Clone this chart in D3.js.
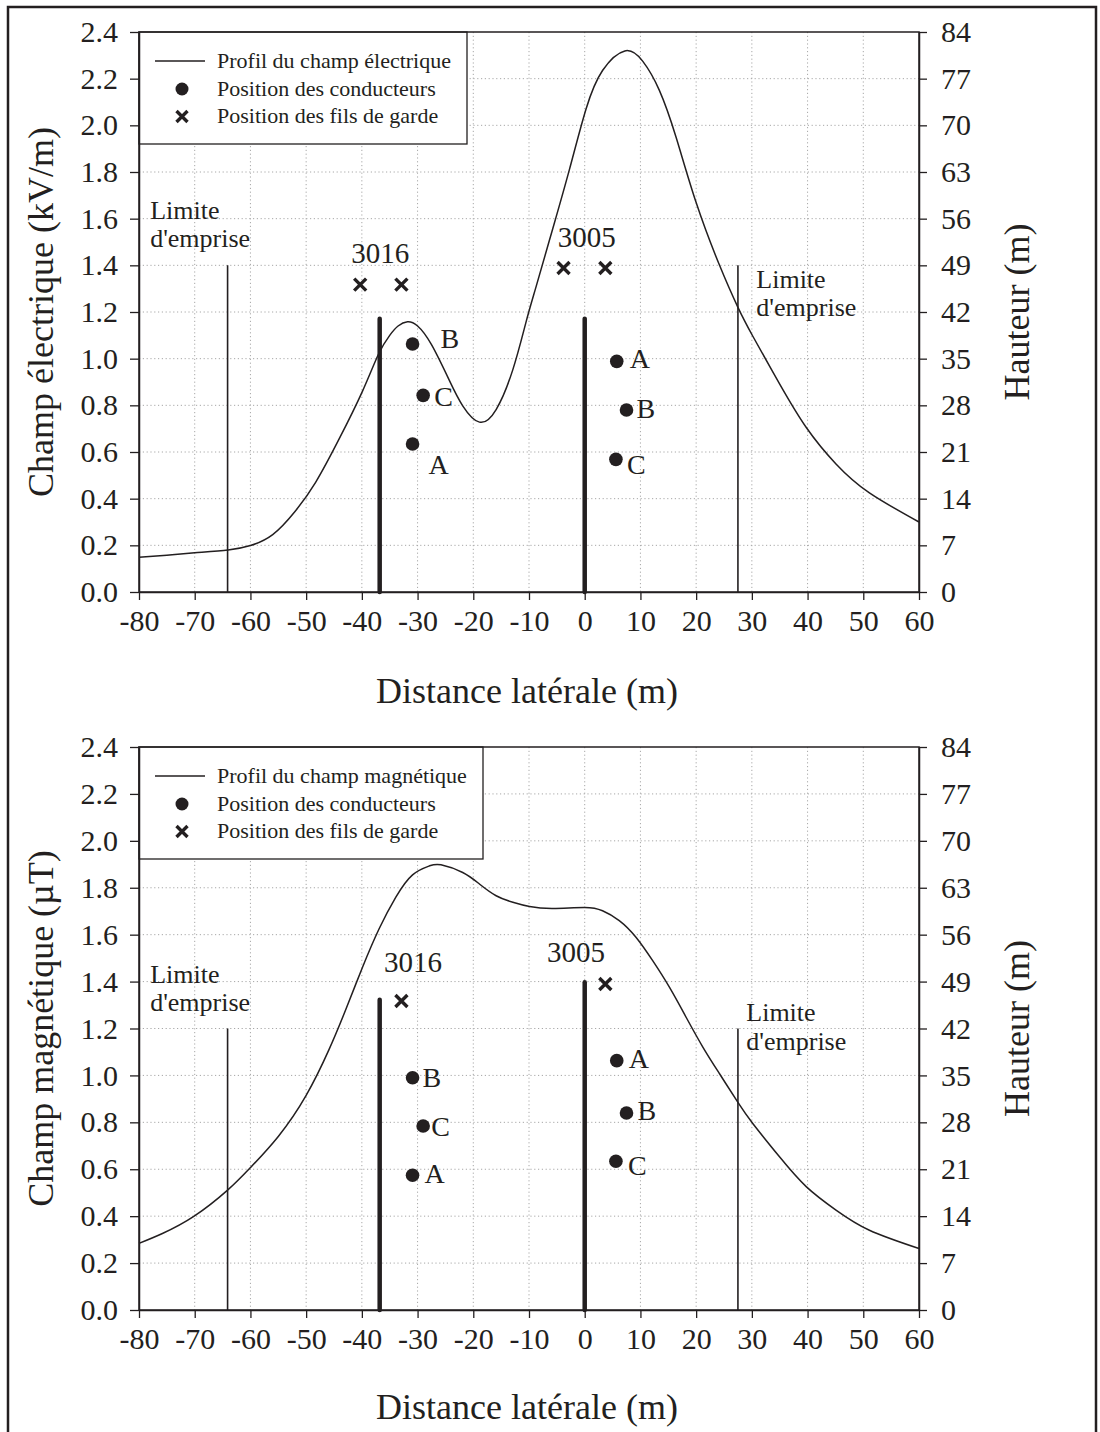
<!DOCTYPE html>
<html>
<head>
<meta charset="utf-8">
<title>Champ électrique et magnétique</title>
<script src="https://d3js.org/d3.v7.min.js"></script>
<style>
  body { margin: 0; background: #fff; }
  svg text { font-family: "Liberation Serif", "Times New Roman", serif; fill: #231f20; }
</style>
</head>
<body>
<script>
// ---- data ----
// electric field profile (kV/m) vs lateral distance (m)
const distElec = [-80, -75, -70, -64, -60, -56, -52, -48.3, -44.1, -39.9, -37, -35, -33.5, -31.8, -30, -27.5, -24.3, -21.9, -18.9, -15.9, -12.9, -10.5, -8.7, -5.7, -2.75, 0.24, 3.2, 7.2, 10.4, 13.4, 16.4, 20, 24.2, 27.5, 30.2, 35, 39.8, 45.1, 51.1, 60];
const champElec = [0.149, 0.158, 0.168, 0.180, 0.199, 0.246, 0.345, 0.47, 0.655, 0.86, 1.02, 1.10, 1.14, 1.158, 1.14, 1.06, 0.907, 0.798, 0.728, 0.782, 0.953, 1.16, 1.311, 1.56, 1.81, 2.07, 2.235, 2.319, 2.275, 2.15, 1.949, 1.669, 1.40, 1.22, 1.095, 0.891, 0.704, 0.549, 0.425, 0.30];

// magnetic field profile (uT) vs lateral distance (m)
const distMag = [-80, -75.8, -70.1, -64.1, -60, -55, -50, -45.9, -42.9, -39.9, -36.9, -33.9, -30.9, -27.9, -25.8, -21.9, -18.9, -15.9, -12.9, -9.9, -5.7, 0, 3.2, 6.2, 9.2, 12.2, 15.2, 18.2, 21.2, 24.2, 27.5, 30.2, 35, 39.8, 45.1, 51.1, 60];
const champMag = [0.284, 0.326, 0.40, 0.511, 0.607, 0.74, 0.915, 1.11, 1.28, 1.46, 1.625, 1.76, 1.855, 1.893, 1.898, 1.865, 1.816, 1.766, 1.738, 1.72, 1.712, 1.716, 1.702, 1.66, 1.589, 1.489, 1.376, 1.248, 1.121, 1.007, 0.885, 0.794, 0.652, 0.525, 0.426, 0.340, 0.262];

// axes
const xTicks = [-80, -70, -60, -50, -40, -30, -20, -10, 0, 10, 20, 30, 40, 50, 60];
const yTicks = [0, 0.2, 0.4, 0.6, 0.8, 1.0, 1.2, 1.4, 1.6, 1.8, 2.0, 2.2, 2.4];
const hTicks = [0, 7, 14, 21, 28, 35, 42, 49, 56, 63, 70, 77, 84];

// towers (x in m, heights in m)
const towerNames = ["3016", "3005"];
const poleX = [-36.8, 0];
const poleHElec = [41.0, 41.0];
const poleHMag = [46.3, 48.9];

// ground wires (fils de garde)
const gardeXElec = [-40.3, -32.9, -3.8, 3.7];
const gardeHElec = [46.1, 46.1, 48.6, 48.6];
const gardeXMag = [-32.9, 3.7];
const gardeHMag = [46.1, 48.65];

// conductors
const condXElec = [-30.9, -29.0, -30.9, 5.75, 7.5, 5.6];
const condHElec = [37.2, 29.5, 22.2, 34.6, 27.3, 19.9];
const phaseElec = ["B", "C", "A", "A", "B", "C"];
const condXMag = [-30.9, -29.0, -30.9, 5.75, 7.5, 5.6];
const condHMag = [34.65, 27.45, 20.1, 37.2, 29.4, 22.2];
const phaseMag = ["B", "C", "A", "A", "B", "C"];

// limite d'emprise
const limiteX = [-64.1, 27.5];
const limiteTopElec = 1.4;
const limiteTopMag = 1.2;

// ---- layout ----
const W = 1100, H = 1432;
const left = 139, right = 919;
const ink = "#231f20";

const svg = d3.select("body").append("svg").attr("width", W).attr("height", H);

// outer frame of the figure
svg.append("rect").attr("x", 8).attr("y", 7).attr("width", 1088).attr("height", 1450)
  .attr("fill", "none").attr("stroke", ink).attr("stroke-width", 2.5);

const charts = [
  {
    top: 32, bottom: 592,
    dist: distElec, champ: champElec,
    yTitle: "Champ électrique (kV/m)",
    legendText: "Profil du champ électrique", legendW: 328,
    poleH: poleHElec, gardeX: gardeXElec, gardeH: gardeHElec,
    condX: condXElec, condH: condHElec, phases: phaseElec,
    phaseOff: [[28, 4], [11, 11], [16, 30], [13, 7], [10, 8], [11, 15]],
    limiteTop: limiteTopElec,
    limiteLabels: [[-78, 1.60], [30.8, 1.303]],
    towerLabels: [[-36.7, 1.412], [0.36, 1.479]],
    xTitleY: 703
  },
  {
    top: 747, bottom: 1310,
    dist: distMag, champ: champMag,
    yTitle: "Champ magnétique (µT)",
    legendText: "Profil du champ magnétique", legendW: 344,
    poleH: poleHMag, gardeX: gardeXMag, gardeH: gardeHMag,
    condX: condXMag, condH: condHMag, phases: phaseMag,
    phaseOff: [[10, 9], [8, 10], [12, 8], [12, 7], [11, 7], [12, 14]],
    limiteTop: limiteTopMag,
    limiteLabels: [[-78, 1.396], [29.0, 1.231]],
    towerLabels: [[-30.8, 1.439], [-1.56, 1.483]],
    xTitleY: 1419
  }
];

function xMark(g, cx, cy, s) {
  g.append("path")
    .attr("d", `M${cx - s},${cy - s}L${cx + s},${cy + s}M${cx - s},${cy + s}L${cx + s},${cy - s}`)
    .attr("stroke", ink).attr("stroke-width", 3.4).attr("fill", "none");
}

charts.forEach(c => {
  const x = d3.scaleLinear().domain([-80, 60]).range([left, right]);
  const y = d3.scaleLinear().domain([0, 2.4]).range([c.bottom, c.top]);
  const h = d3.scaleLinear().domain([0, 84]).range([c.bottom, c.top]);
  const g = svg.append("g");

  // dotted grid
  g.append("g").selectAll("line").data(xTicks.slice(1, -1)).join("line")
    .attr("x1", d => x(d)).attr("x2", d => x(d)).attr("y1", c.top).attr("y2", c.bottom)
    .attr("stroke", "#a8a8a8").attr("stroke-width", 1).attr("stroke-dasharray", "1.2,2.6");
  g.append("g").selectAll("line").data(yTicks.slice(1, -1)).join("line")
    .attr("y1", d => y(d)).attr("y2", d => y(d)).attr("x1", left).attr("x2", right)
    .attr("stroke", "#a8a8a8").attr("stroke-width", 1).attr("stroke-dasharray", "1.2,2.6");

  // field profile
  const pts = c.dist.map((d, i) => [d, c.champ[i]]);
  g.append("path").datum(pts)
    .attr("d", d3.line().x(d => x(d[0])).y(d => y(d[1])).curve(d3.curveNatural))
    .attr("fill", "none").attr("stroke", ink).attr("stroke-width", 1.5);

  // limite d'emprise
  g.append("g").selectAll("line").data(limiteX).join("line")
    .attr("x1", d => x(d)).attr("x2", d => x(d)).attr("y1", y(0)).attr("y2", y(c.limiteTop))
    .attr("stroke", ink).attr("stroke-width", 1.6);
  c.limiteLabels.forEach(p => {
    const t = g.append("text").attr("x", x(p[0])).attr("y", y(p[1])).attr("font-size", 26);
    t.append("tspan").text("Limite");
    t.append("tspan").attr("x", x(p[0])).attr("dy", 28.5).text("d'emprise");
  });

  // poles
  g.append("g").selectAll("line").data(poleX).join("line")
    .attr("x1", d => x(d)).attr("x2", d => x(d)).attr("y1", h(0))
    .attr("y2", (d, i) => h(c.poleH[i]))
    .attr("stroke", ink).attr("stroke-width", 4.5).attr("stroke-linecap", "round");
  g.append("g").selectAll("text").data(towerNames).join("text")
    .attr("x", (d, i) => x(c.towerLabels[i][0])).attr("y", (d, i) => y(c.towerLabels[i][1]))
    .attr("text-anchor", "middle").attr("font-size", 29).text(d => d);

  // ground wires
  c.gardeX.forEach((gx, i) => xMark(g, x(gx), h(c.gardeH[i]), 6));

  // conductors
  g.append("g").selectAll("circle").data(c.condX).join("circle")
    .attr("cx", d => x(d)).attr("cy", (d, i) => h(c.condH[i])).attr("r", 6.8).attr("fill", ink);
  g.append("g").selectAll("text").data(c.phases).join("text")
    .attr("x", (d, i) => x(c.condX[i]) + c.phaseOff[i][0])
    .attr("y", (d, i) => h(c.condH[i]) + c.phaseOff[i][1])
    .attr("font-size", 28).text(d => d);

  // legend
  const lg = g.append("g").attr("transform", `translate(${left},${c.top})`);
  lg.append("rect").attr("width", c.legendW).attr("height", 112)
    .attr("fill", "#fff").attr("stroke", ink).attr("stroke-width", 1.3);
  lg.append("line").attr("x1", 16).attr("x2", 66).attr("y1", 29).attr("y2", 29)
    .attr("stroke", ink).attr("stroke-width", 1.5);
  lg.append("circle").attr("cx", 43).attr("cy", 57).attr("r", 6.5).attr("fill", ink);
  xMark(lg, 43, 84.5, 5.5);
  lg.selectAll("text.leg").data([c.legendText, "Position des conducteurs", "Position des fils de garde"])
    .join("text").attr("class", "leg")
    .attr("x", 78).attr("y", (d, i) => 36 + i * 27.5).attr("font-size", 22).text(d => d);

  // plot frame
  g.append("rect").attr("x", left).attr("y", c.top).attr("width", right - left).attr("height", c.bottom - c.top)
    .attr("fill", "none").attr("stroke", ink).attr("stroke-width", 1.5);

  // axes
  const styleAxis = ax => {
    ax.attr("font-size", 30).attr("font-family", "'Liberation Serif', serif").style("color", ink);
    ax.select(".domain").attr("stroke-width", 1.5);
    ax.selectAll(".tick line").attr("stroke-width", 1.3);
  };
  g.append("g").attr("transform", `translate(${left},0)`)
    .call(d3.axisLeft(y).tickValues(yTicks).tickFormat(d3.format(".1f")).tickSize(9).tickPadding(12).tickSizeOuter(0))
    .call(styleAxis);
  g.append("g").attr("transform", `translate(${right},0)`)
    .call(d3.axisRight(h).tickValues(hTicks).tickFormat(d => String(d)).tickSize(8).tickPadding(14).tickSizeOuter(0))
    .call(styleAxis);
  g.append("g").attr("transform", `translate(0,${c.bottom})`)
    .call(d3.axisBottom(x).tickValues(xTicks).tickFormat(d => String(d)).tickSize(8).tickPadding(10).tickSizeOuter(0))
    .call(styleAxis);

  // titles
  g.append("text").attr("transform", `translate(53,${(c.top + c.bottom) / 2}) rotate(-90)`)
    .attr("text-anchor", "middle").attr("font-size", 36).text(c.yTitle);
  g.append("text").attr("transform", `translate(1029,${(c.top + c.bottom) / 2}) rotate(-90)`)
    .attr("text-anchor", "middle").attr("font-size", 36).text("Hauteur (m)");
  g.append("text").attr("x", (left + right) / 2 - 2).attr("y", c.xTitleY)
    .attr("text-anchor", "middle").attr("font-size", 36).text("Distance latérale (m)");
});
</script>
</body>
</html>
